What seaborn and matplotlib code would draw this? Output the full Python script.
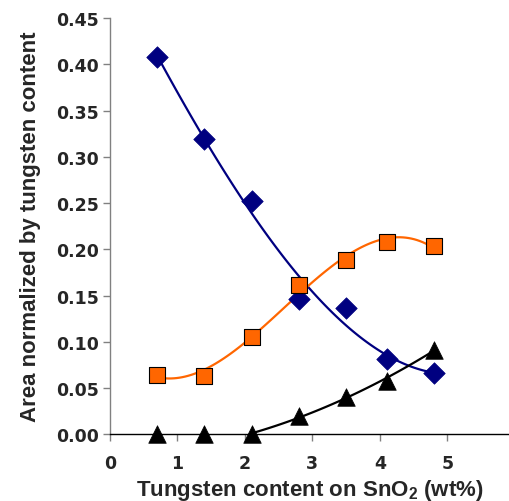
import numpy as np
import pandas as pd
import matplotlib
matplotlib.use("Agg")
import matplotlib.pyplot as plt
import seaborn as sns

# ---- data ----
tungsten = [0.7, 1.4, 2.1, 2.8, 3.5, 4.1, 4.8]
series_blue = [0.408, 0.319, 0.252, 0.146, 0.136, 0.0815, 0.066]
series_orange = [0.0645, 0.0634, 0.105, 0.161, 0.1886, 0.2078, 0.2035]
series_black = [0.0, 0.0, 0.0, 0.020, 0.040, 0.058, 0.0916]
black_fit_from = 2  # trend line of the black series starts at 3rd point
x_ticks = [0, 1, 2, 3, 4, 5]
y_ticks = [0.00, 0.05, 0.10, 0.15, 0.20, 0.25, 0.30, 0.35, 0.40, 0.45]

sns.set_style("white")
plt.rcParams["font.family"] = ["Liberation Sans", "DejaVu Sans"]
plt.rcParams["font.weight"] = "bold"
plt.rcParams["mathtext.fontset"] = "custom"
plt.rcParams["mathtext.rm"] = "Liberation Sans:bold"
plt.rcParams["mathtext.bf"] = "Liberation Sans:bold"
plt.rcParams["mathtext.default"] = "bf"

df = pd.DataFrame({"x": tungsten, "blue": series_blue,
                   "orange": series_orange, "black": series_black})

W, H = 510, 502
fig = plt.figure(figsize=(W / 100, H / 100), dpi=100)
ax = fig.add_axes([110 / W, (H - 435.3) / H, 400 / W, (435.3 - 19) / H])

NAVY = "#000080"
ORANGE = "#FF6600"

# trend lines
sns.regplot(data=df, x="x", y="blue", order=3, ci=None, scatter=False,
            ax=ax, line_kws=dict(color=NAVY, lw=1.6, zorder=2))
sns.regplot(data=df, x="x", y="orange", order=3, ci=None, scatter=False,
            ax=ax, line_kws=dict(color=ORANGE, lw=1.6, zorder=2))
sns.regplot(data=df.iloc[black_fit_from:], x="x", y="black", order=2, ci=None,
            scatter=False, ax=ax, line_kws=dict(color="black", lw=1.6, zorder=2))

# markers
sns.scatterplot(data=df, x="x", y="blue", marker="D", s=120, color=NAVY,
                edgecolor=NAVY, linewidth=0.5, ax=ax, zorder=3, clip_on=False)
sns.scatterplot(data=df, x="x", y="orange", marker="s", s=135, color=ORANGE,
                edgecolor="black", linewidth=0.8, ax=ax, zorder=3, clip_on=False)
sns.scatterplot(data=df, x="x", y="black", marker="^", s=160, color="black",
                edgecolor="black", linewidth=0.5, ax=ax, zorder=4, clip_on=False)

ax.set_xlim(0, 5.93)
ax.set_ylim(0, 0.45)
ax.set_xticks(x_ticks)
ax.set_xticklabels([str(t) for t in x_ticks])
ax.set_yticks(y_ticks)
ax.set_yticklabels([f"{t:.2f}" for t in y_ticks])

for s in ["top", "right"]:
    ax.spines[s].set_visible(False)
ax.spines["left"].set_color("#808080")
ax.spines["left"].set_linewidth(1.0)
ax.spines["bottom"].set_color("black")
ax.spines["bottom"].set_linewidth(1.0)

ax.tick_params(axis="y", direction="out", length=5, width=1, color="#808080",
               pad=3, left=True)
ax.tick_params(axis="x", direction="out", length=5, width=1, color="#808080",
               pad=9, bottom=True)
for lab in ax.get_xticklabels() + ax.get_yticklabels():
    lab.set_fontfamily("DejaVu Sans")
    lab.set_fontweight("bold")
    lab.set_fontsize(12.5)

ax.set_xlabel(r"Tungsten content on SnO$_2$ (wt%)", fontsize=16,
              fontweight="bold", labelpad=4)
ax.set_ylabel("Area normalized by tungsten content", fontsize=16,
              fontweight="bold")
ax.yaxis.set_label_coords(-0.172, 0.5)

fig.savefig("out.png", dpi=100)
